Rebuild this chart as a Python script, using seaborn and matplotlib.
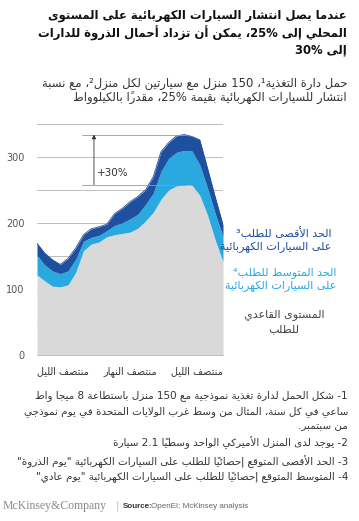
import re
import matplotlib
matplotlib.use("Agg")
import matplotlib.pyplot as plt
import seaborn as sns

# load profile of a 150-home feeder, kW, one value per hour (0 = midnight)
hours = list(range(25))
base_load = [121, 112, 104, 103, 106, 125, 158, 168, 171, 179, 182, 184, 186,
             192, 203, 216, 236, 250, 256, 258, 257, 242, 212, 174, 141]
avg_ev = [151, 136, 127, 123, 127, 145, 172, 178, 181, 188, 196, 200, 206,
          213, 228, 245, 278, 298, 307, 310, 309, 288, 253, 214, 179]
max_ev = [169, 154, 144, 137, 146, 162, 182, 191, 194, 198, 214, 222, 232,
          240, 250, 270, 308, 322, 332, 334, 331, 326, 283, 239, 197]

y_ticks = [0, 50, 100, 150, 200, 250, 300, 350]
y_labels = ["0", "", "100", "", "200", "", "300", ""]
x_ticks = [0, 6, 12, 18, 24]
x_labels = ["منتصف الليل", "", "منتصف النهار", "", "منتصف الليل"]

title = ["عندما يصل انتشار السيارات الكهربائية على المستوى",
         "المحلي إلى 25%، يمكن أن تزداد أحمال الذروة للدارات",
         "إلى 30%"]
subtitle = ["حمل دارة التغذية¹، 150 منزل مع سيارتين لكل منزل²، مع نسبة",
            "انتشار للسيارات الكهربائية بقيمة 25%، مقدراً بالكيلوواط"]
max_label = ["الحد الأقصى للطلب³", "على السيارات الكهربائية"]
avg_label = ["الحد المتوسط للطلب⁴", "على السيارات الكهربائية"]
base_label = ["المستوى القاعدي", "للطلب"]
notes = ["1- شكل الحمل لدارة تغذية نموذجية مع 150 منزل باستطاعة 8 ميجا واط",
         "ساعي في كل سنة، المثال من وسط غرب الولايات المتحدة في يوم نموذجي",
         "من سبتمبر.",
         "2- يوجد لدى المنزل الأميركي الواحد وسطياً 2.1 سيارة",
         "3- الحد الأقصى المتوقع إحصائياً للطلب على السيارات الكهربائية \"يوم الذروة\"",
         "4- المتوسط المتوقع إحصائياً للطلب على السيارات الكهربائية \"يوم عادي\""]

DARK = "#1f4f9f"
LIGHT = "#29a9e0"
GRAY = "#d8d9d8"

# --- minimal arabic shaping + right-to-left ordering (matplotlib has none)
LETTERS = "ءآأؤإئابةتثجحخدذرزسشصضطظعغفقكلمنهوىي"
NFORMS = [1, 2, 2, 2, 2, 4, 2, 4, 2, 4, 4, 4, 4, 4, 2, 2, 2, 2] + [4] * 15 + [2, 2, 4]
FORMS = {}
code = 0xFE80
for ch, n in zip(LETTERS, NFORMS):
    FORMS[ch] = [chr(code + k) for k in range(n)]
    code += n
MARKS = "\u064b\u064c\u064d\u064e\u064f\u0650\u0651\u0652"
LAM_ALEF = {"آ": 0xFEF5, "أ": 0xFEF7, "إ": 0xFEF9, "ا": 0xFEFB}


def shape(text):
    def neighbour(i, step):
        j = i + step
        while 0 <= j < len(text) and text[j] in MARKS:
            j += step
        return text[j] if 0 <= j < len(text) else ""

    out = []
    i = 0
    while i < len(text):
        c = text[i]
        prev = neighbour(i, -1)
        p = prev in FORMS and len(FORMS[prev]) == 4
        if c == "ل" and i + 1 < len(text) and text[i + 1] in LAM_ALEF:
            out.append(chr(LAM_ALEF[text[i + 1]] + p))
            i += 2
            continue
        if c in FORMS:
            f = FORMS[c]
            nxt = neighbour(i, 1)
            n = len(f) == 4 and nxt in FORMS and len(FORMS[nxt]) > 1
            if len(f) == 1:
                out.append(f[0])
            elif len(f) == 2:
                out.append(f[1] if p else f[0])
            else:
                out.append(f[[[0, 2], [1, 3]][p][n]])
        else:
            out.append(c)
        i += 1
    return "".join(out)


def rtl(line):
    parts = re.split(r"([0-9A-Za-z¹²³⁴][0-9A-Za-z¹²³⁴.%]*)", shape(line))
    res = []
    for k, part in enumerate(parts):
        if k % 2:
            res.append(part)
            continue
        clusters = []
        for ch in part:
            if ch in MARKS and clusters:
                clusters[-1] += ch
            else:
                clusters.append(ch)
        res.append("".join(reversed(clusters)))
    return "".join(reversed(res))


def put(lines, x, ys, **kw):
    for line, y in zip(lines, ys):
        fig.text(x / 359, 1 - y / 521, rtl(line), va="center", **kw)


sns.set_style("white")
plt.rcParams["font.family"] = ["DejaVu Sans"]

fig = plt.figure(figsize=(3.59, 5.21), dpi=100)
ax = fig.add_axes([37 / 359, 1 - 354.7 / 521, 186 / 359, 230.7 / 521])

ax.fill_between(hours, 0, base_load, color=GRAY, lw=0, zorder=1)
ax.fill_between(hours, base_load, avg_ev, color=LIGHT, lw=0, zorder=1)
ax.fill_between(hours, avg_ev, max_ev, color=DARK, lw=0, zorder=1)
sns.lineplot(x=hours, y=max_ev, color=DARK, lw=0.6, ax=ax, zorder=2)

ax.set_xlim(0, 24)
ax.set_ylim(0, 350)
ax.set_axisbelow(True)
ax.set_yticks(y_ticks)
ax.set_yticklabels(y_labels, fontsize=7, color="#555555")
ax.yaxis.grid(True, color="#bdbdbd", lw=0.7)
ax.tick_params(axis="y", length=0, pad=9)
ax.set_xticks(x_ticks)
ax.set_xticklabels([rtl(s) for s in x_labels], fontsize=7, color="#333333")
ax.tick_params(axis="x", length=3, color="#bdbdbd", width=0.7, pad=5)
labels = ax.get_xticklabels()
labels[0].set_ha("left")
labels[-1].set_ha("right")
for s in ["top", "left", "right"]:
    ax.spines[s].set_visible(False)
ax.spines["bottom"].set_color("#bdbdbd")
ax.spines["bottom"].set_linewidth(0.7)

# +30% annotation
ax.plot([5.8, 19.2], [334, 334], color="#999999", lw=0.6, zorder=3)
ax.plot([5.8, 19.2], [258, 258], color="#999999", lw=0.6, zorder=3)
ax.annotate("", xy=(7.35, 334), xytext=(7.35, 258),
            arrowprops=dict(arrowstyle="-|>", color="#333333", lw=0.6,
                            mutation_scale=6, shrinkA=0, shrinkB=0), zorder=3)
ax.text(7.75, 276, "+30%", fontsize=7.5, color="#333333", va="center")

put(title, 347, [16, 33, 50], ha="right", fontsize=8.4, fontweight="bold",
    color="#111111")
put(subtitle, 347, [83, 98], ha="right", fontsize=8.4, color="#333333")
put(max_label, 331, [233, 247], ha="right", fontsize=8, color=DARK)
put(avg_label, 336, [273, 286], ha="right", fontsize=8, color=LIGHT)
put(base_label, 284, [315, 329], ha="center", fontsize=8, color="#444444")
put(notes, 348, [396, 412, 426, 443, 462, 477], ha="right", fontsize=7.5,
    color="#333333")

fig.text(3 / 359, 1 - 506 / 521, "McKinsey&Company", fontsize=8.5,
         family="Liberation Serif", color="#8a8a8a", va="center")
fig.text(116 / 359, 1 - 506 / 521, "|", fontsize=8, color="#bbbbbb", va="center")
fig.text(123 / 359, 1 - 506 / 521, "Source:", fontsize=5.8, fontweight="bold",
         family="Liberation Sans", color="#333333", va="center")
fig.text(151 / 359, 1 - 506 / 521, "OpenEI; McKinsey analysis", fontsize=5.8,
         family="Liberation Sans", color="#666666", va="center")

fig.savefig("out.png", dpi=100)
